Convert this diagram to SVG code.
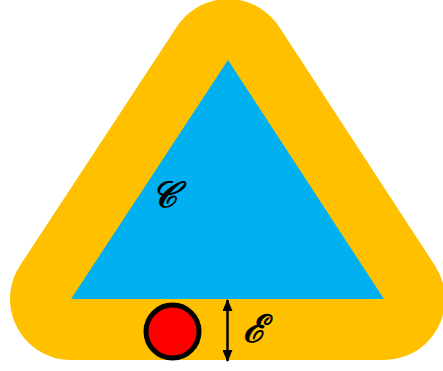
<svg xmlns="http://www.w3.org/2000/svg" width="443" height="371" viewBox="0 0 443 371">
<defs>
<marker id="ah" viewBox="0 0 12 10" refX="11" refY="5" markerWidth="12" markerHeight="10" orient="auto-start-reverse" markerUnits="userSpaceOnUse">
<path d="M0,0 L12,5 L0,10 z" fill="#000"/>
</marker>
</defs>
<style>
.lbl{font-family:"DejaVu Serif","Liberation Serif",serif;font-style:italic;font-weight:bold;fill:#000}
</style>
<g id="offset">
<polygon points="228,60 71,299 384,299" fill="#FFC000" stroke="#FFC000" stroke-width="122" stroke-linejoin="round"/>
</g>
<g id="triangle">
<polygon points="228,60 71,299 384,299" fill="#00B0F0"/>
<text class="lbl" x="151" y="207" font-size="36">𝒞</text>
</g>
<g id="ball">
<circle cx="172.5" cy="331.5" r="26.5" fill="#FF0000" stroke="#000" stroke-width="5"/>
</g>
<g id="connectors">
<line x1="227.5" y1="300" x2="227.5" y2="361" stroke="#000" stroke-width="2.5" marker-start="url(#ah)" marker-end="url(#ah)"/>
<text class="lbl" x="243" y="342" font-size="38">ℰ</text>
</g>
</svg>
